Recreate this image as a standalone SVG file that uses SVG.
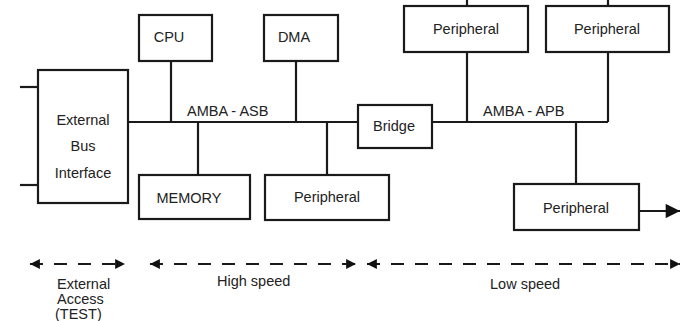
<svg xmlns="http://www.w3.org/2000/svg" width="680" height="321" viewBox="0 0 680 321">
<defs>
<style>
.box{fill:#fff;stroke:#1a1a1a;stroke-width:2.2}
.ln{fill:none;stroke:#1a1a1a;stroke-width:2.2}
.dash{fill:none;stroke:#1a1a1a;stroke-width:2.2;stroke-dasharray:13 11}
.t{font-family:"Liberation Sans",Arial,sans-serif;font-size:14.5px;fill:#222;text-anchor:middle}
.s{font-family:"Liberation Sans",Arial,sans-serif;font-size:14.5px;fill:#222}
</style>
<marker id="ah" viewBox="0 0 10 10" refX="10" refY="5" markerWidth="5" markerHeight="4.5" orient="auto-start-reverse" markerUnits="strokeWidth">
<path d="M0,0 L10,5 L0,10 z" fill="#111"/>
</marker>
<marker id="ah2" viewBox="0 0 10 10" refX="10" refY="5" markerWidth="7" markerHeight="6.5" orient="auto" markerUnits="strokeWidth">
<path d="M0,0 L10,5 L0,10 z" fill="#111"/>
</marker>
</defs>
<rect width="680" height="321" fill="#fff"/>
<g id="connectors">
<line class="ln" x1="20" y1="87" x2="38" y2="87"/>
<line class="ln" x1="20" y1="185" x2="38" y2="185"/>
<line class="ln" x1="128" y1="122" x2="358" y2="122"/>
<line class="ln" x1="432" y1="122" x2="608" y2="122"/>
<line class="ln" x1="171" y1="61" x2="171" y2="122"/>
<line class="ln" x1="296" y1="61" x2="296" y2="122"/>
<line class="ln" x1="198" y1="122" x2="198" y2="175"/>
<line class="ln" x1="327" y1="122" x2="327" y2="175"/>
<line class="ln" x1="467" y1="0" x2="467" y2="6"/>
<line class="ln" x1="608" y1="0" x2="608" y2="6"/>
<line class="ln" x1="467" y1="52" x2="467" y2="122"/>
<line class="ln" x1="608" y1="52" x2="608" y2="122"/>
<line class="ln" x1="576" y1="122" x2="576" y2="184"/>
<line class="ln" x1="639" y1="211" x2="680" y2="211" marker-end="url(#ah2)"/>
<text class="s" x="187" y="116">AMBA - ASB</text>
<text class="s" x="483" y="116">AMBA - APB</text>
</g>
<g id="ebi"><rect class="box" x="38" y="70" width="90" height="133"/>
<text class="t" x="83" y="125">External</text><text class="t" x="83" y="151">Bus</text><text class="t" x="83" y="178">Interface</text></g>
<g id="cpu"><rect class="box" x="139" y="15" width="73" height="46"/><text class="t" x="169" y="42">CPU</text></g>
<g id="dma"><rect class="box" x="264" y="15" width="74" height="46"/><text class="t" x="294" y="42">DMA</text></g>
<g id="memory"><rect class="box" x="139" y="175" width="111" height="44"/><text class="t" x="189" y="203">MEMORY</text></g>
<g id="periph-asb"><rect class="box" x="265" y="175" width="124" height="45"/><text class="t" x="327" y="202">Peripheral</text></g>
<g id="bridge"><rect class="box" x="358" y="105" width="74" height="43"/><text class="t" x="394" y="131">Bridge</text></g>
<g id="periph-top1"><rect class="box" x="404" y="6" width="124" height="46"/><text class="t" x="466" y="34">Peripheral</text></g>
<g id="periph-top2"><rect class="box" x="546" y="6" width="123" height="46"/><text class="t" x="607" y="34">Peripheral</text></g>
<g id="periph-low"><rect class="box" x="514" y="184" width="125" height="46"/><text class="t" x="576" y="213">Peripheral</text></g>
<g id="scale">
<line class="dash" x1="30" y1="264" x2="125" y2="264" marker-start="url(#ah)" marker-end="url(#ah)"/>
<line class="dash" x1="150" y1="264" x2="356" y2="264" marker-start="url(#ah)" marker-end="url(#ah)"/>
<line class="dash" x1="367" y1="264" x2="680" y2="264" marker-start="url(#ah)" marker-end="url(#ah)"/>
<text class="s" x="57" y="289">External</text>
<text class="s" x="57" y="304">Access</text>
<text class="s" x="55" y="319">(TEST)</text>
<text class="s" x="217" y="286">High speed</text>
<text class="s" x="490" y="289">Low speed</text>
</g>
</svg>
